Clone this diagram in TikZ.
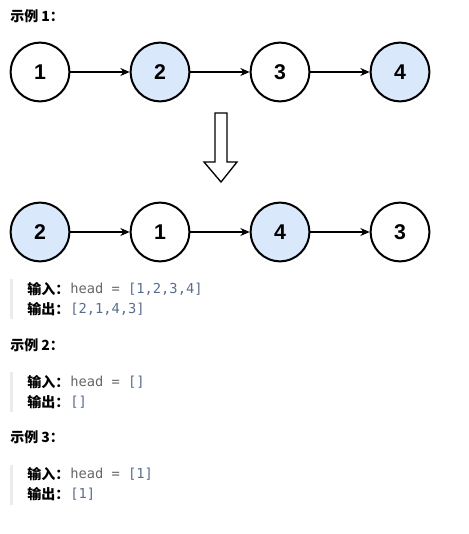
\documentclass[tikz,border=0pt]{standalone}
\usepackage{fontspec}
\setmainfont{Liberation Sans}
\setmonofont{DejaVu Sans Mono}
\newfontfamily\cjk{Noto Sans CJK SC}
\usetikzlibrary{arrows.meta,positioning}
\definecolor{nodeblue}{HTML}{DAE8FC}
\definecolor{codegray}{HTML}{666666}
\definecolor{codeblue}{HTML}{5A6C8E}
\definecolor{bargray}{HTML}{EBEBEB}
\tikzset{
  listnode/.style={circle, draw, line width=1.5pt, minimum size=44pt, inner sep=0pt,
    font=\fontsize{16}{18}\selectfont\bfseries},
  bluenode/.style={listnode, fill=nodeblue},
  title/.style={anchor=west, inner sep=0pt, font=\cjk\fontsize{10.5}{12}\selectfont\bfseries},
  keyword/.style={anchor=west, inner sep=0pt, font=\cjk\fontsize{10.5}{12}\selectfont\bfseries},
  code/.style={inner sep=0pt, font=\ttfamily\fontsize{10.3}{12}\selectfont, text=codegray},
}

\begin{document}
\begin{tikzpicture}[x=0.75pt, y=-0.75pt, node distance = 90pt, on grid]
  \useasboundingbox (0,0) rectangle (468,534);

  % example 1
  \node (t1) [title] at (10,16) {示例 1：};

  \node (a1) [listnode] at (40,72) {1};
  \node (a2) [bluenode, right=of a1] {2};
  \node (a3) [listnode, right=of a2] {3};
  \node (a4) [bluenode, right=of a3] {4};

  \path [-{Stealth[length=7pt,width=6pt]}, line width=1pt]
    (a1) edge (a2)
    (a2) edge (a3)
    (a3) edge (a4);

  \draw [line width=1pt, fill=white]
    (215,113) -- (227,113) -- (227,162) -- (237,162) -- (221,182)
    -- (204,162) -- (215,162) -- cycle;

  \node (b1) [bluenode] at (40,232) {2};
  \node (b2) [listnode, right=of b1] {1};
  \node (b3) [bluenode, right=of b2] {4};
  \node (b4) [listnode, right=of b3] {3};

  \path [-{Stealth[length=7pt,width=6pt]}, line width=1pt]
    (b1) edge (b2)
    (b2) edge (b3)
    (b3) edge (b4);

  \fill [bargray] (10,279) rectangle (13,319);
  \node (in1) [keyword] at (27,289) {输入：};
  \node (c1) [code, anchor=west] at (70,289) {head = \textcolor{codeblue}{[1,2,3,4]}};
  \node (out1) [keyword] at (27,309) {输出：};
  \node (d1) [code, anchor=west, text=codeblue] at (70,309) {[2,1,4,3]};

  % example 2
  \node (t2) [title] at (10,345) {示例 2：};
  \fill [bargray] (10,372) rectangle (13,412);
  \node (in2) [keyword] at (27,382) {输入：};
  \node (c2) [code, anchor=west] at (70,382) {head = \textcolor{codeblue}{[]}};
  \node (out2) [keyword] at (27,402) {输出：};
  \node (d2) [code, anchor=west, text=codeblue] at (70,402) {[]};

  % example 3
  \node (t3) [title] at (10,437) {示例 3：};
  \fill [bargray] (10,465) rectangle (13,505);
  \node (in3) [keyword] at (27,474) {输入：};
  \node (c3) [code, anchor=west] at (70,474) {head = \textcolor{codeblue}{[1]}};
  \node (out3) [keyword] at (27,494) {输出：};
  \node (d3) [code, anchor=west, text=codeblue] at (70,494) {[1]};
\end{tikzpicture}
\end{document}
